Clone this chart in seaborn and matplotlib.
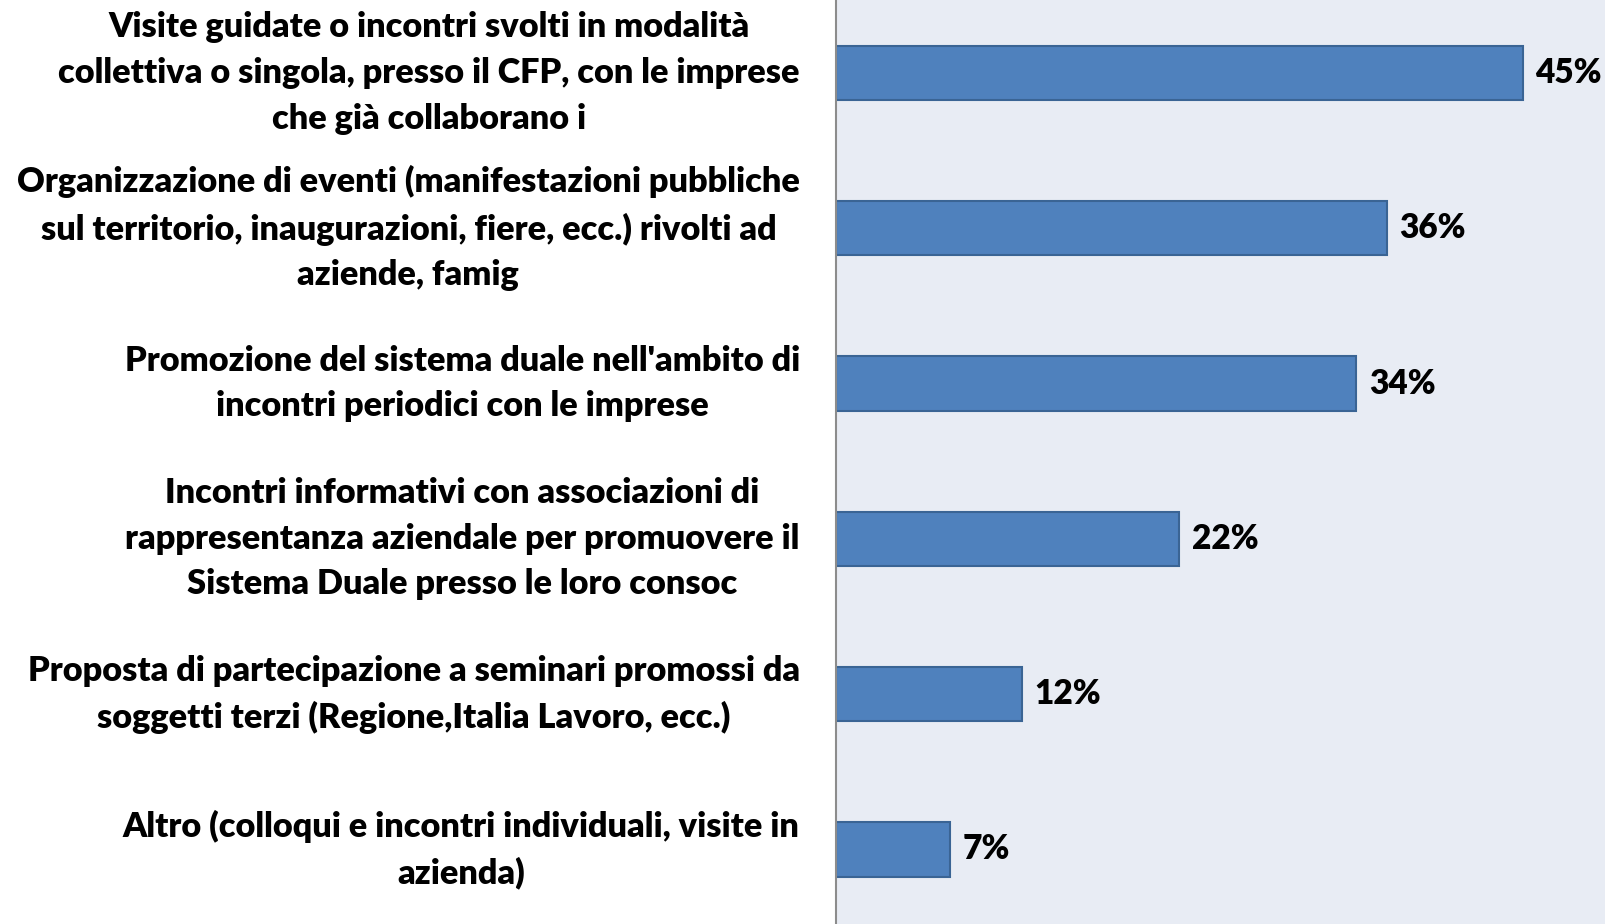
import matplotlib
matplotlib.use('Agg')
import matplotlib.pyplot as plt
import pandas as pd
import seaborn as sns

# dati
categorie = [
    "Visite guidate o incontri svolti in modalità\ncollettiva o singola, presso il CFP, con le imprese\nche già collaborano i",
    "Organizzazione di eventi (manifestazioni pubbliche\nsul territorio, inaugurazioni, fiere, ecc.) rivolti ad\naziende, famig",
    "Promozione del sistema duale nell'ambito di\nincontri periodici con le imprese",
    "Incontri informativi con associazioni di\nrappresentanza aziendale per promuovere il\nSistema Duale presso le loro consoc",
    "Proposta di partecipazione a seminari promossi da\nsoggetti terzi (Regione,Italia Lavoro, ecc.)",
    "Altro (colloqui e incontri individuali, visite in\nazienda)",
]
valori = [44.6, 35.8, 33.8, 22.3, 12.1, 7.4]
etichette = ["45%", "36%", "34%", "22%", "12%", "7%"]

df = pd.DataFrame({"cat": categorie, "val": valori})

sns.set_theme(style="white")
plt.rcParams['font.family'] = ['Lato', 'DejaVu Sans']

fig = plt.figure(figsize=(16.06, 9.24), dpi=100)
ax = fig.add_axes([0.5205, 0.0, 0.4795, 1.0])
ax.set_facecolor('#E8ECF4')

sns.barplot(data=df, x="val", y="cat", orient="h", color="#4F81BD",
            saturation=1, width=0.35, edgecolor="#3A6494", linewidth=1.5, ax=ax)

for i, (v, t) in enumerate(zip(valori, etichette)):
    ax.text(v + 0.8, i, t, va='center', ha='left', fontsize=24, fontweight='heavy', color='black')

ax.set_xlim(0, 50)
ax.set_ylim(5.48, -0.47)
ax.set_xticks([])
ax.set_xlabel("")
ax.set_ylabel("")
ax.tick_params(axis='y', length=0, pad=26, labelsize=24.7, labelcolor='black')
for lab in ax.get_yticklabels():
    lab.set_multialignment('center')
    lab.set_verticalalignment('center')
    lab.set_fontweight('heavy')
    lab.set_linespacing(1.52)

for s in ['top', 'right', 'bottom']:
    ax.spines[s].set_visible(False)
ax.spines['left'].set_color('#8C8C8C')
ax.spines['left'].set_linewidth(1.5)

fig.savefig("out.png", dpi=100)
